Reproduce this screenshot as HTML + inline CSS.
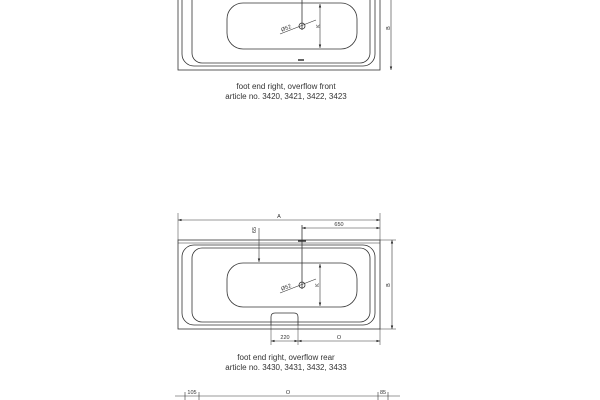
<!DOCTYPE html>
<html><head><style>
html,body{margin:0;padding:0;background:#fff;width:600px;height:400px;overflow:hidden}
svg text{font-family:"Liberation Sans",sans-serif;fill:#333}
</style></head><body>
<svg width="600" height="400" viewBox="0 0 600 400" xmlns="http://www.w3.org/2000/svg">
<defs>
<marker id="ar" viewBox="0 0 6 6" refX="6" refY="3" markerWidth="6" markerHeight="6" orient="auto-start-reverse"><path d="M0,1 L6,3 L0,5z" fill="#222"/></marker>
</defs>
<g stroke="#333" fill="none" stroke-width="0.8">
<!-- top tub (offset -259) -->
<rect x="178" y="-19" width="202" height="89"/>
<rect x="182" y="-14" width="193" height="80" rx="12"/>
<rect x="192" y="-11" width="178" height="74" rx="10"/>
<rect x="227" y="3" width="130" height="46" rx="16"/>
<line x1="302" y1="-10" x2="302" y2="30"/>
<circle cx="302" cy="26" r="3"/>
<line x1="280" y1="34" x2="316" y2="20" stroke-width="0.6"/>
<line x1="320" y1="4" x2="320" y2="48" marker-start="url(#ar)" marker-end="url(#ar)" stroke-width="0.6"/>
<line x1="391" y1="-19" x2="391" y2="70" marker-end="url(#ar)" stroke-width="0.6"/>
<line x1="298" y1="60" x2="304" y2="60" stroke-width="1.5"/>
<!-- bottom tub -->
<rect x="178" y="240" width="202" height="89"/>
<line x1="178" y1="243" x2="380" y2="243" stroke-width="0.5"/>
<rect x="182" y="245" width="193" height="80" rx="12"/>
<rect x="192" y="248" width="178" height="74" rx="10"/>
<rect x="227" y="263" width="130" height="44" rx="16"/>
<path d="M271,325 L271,317 Q271,313 275,313 L294,313 Q298,313 298,317 L298,325"/>
<line x1="178" y1="213" x2="178" y2="240" stroke-width="0.5"/>
<line x1="380" y1="213" x2="380" y2="240" stroke-width="0.5"/>
<line x1="178" y1="220" x2="380" y2="220" marker-start="url(#ar)" marker-end="url(#ar)" stroke-width="0.6"/>
<line x1="302" y1="225" x2="302" y2="289"/>
<line x1="302" y1="228" x2="380" y2="228" marker-start="url(#ar)" marker-end="url(#ar)" stroke-width="0.6"/>
<line x1="298" y1="241" x2="306" y2="241" stroke-width="1.5"/>
<circle cx="302" cy="285" r="3"/>
<line x1="280" y1="293" x2="316" y2="279" stroke-width="0.6"/>
<line x1="259" y1="228" x2="259" y2="262" marker-end="url(#ar)" stroke-width="0.6"/>
<line x1="320" y1="264" x2="320" y2="306" marker-start="url(#ar)" marker-end="url(#ar)" stroke-width="0.6"/>
<line x1="380" y1="240" x2="396" y2="240" stroke-width="0.5"/>
<line x1="380" y1="329" x2="396" y2="329" stroke-width="0.5"/>
<line x1="392" y1="240" x2="392" y2="329" marker-start="url(#ar)" marker-end="url(#ar)" stroke-width="0.6"/>
<line x1="271" y1="325" x2="271" y2="345" stroke-width="0.5"/>
<line x1="298" y1="325" x2="298" y2="345" stroke-width="0.5"/>
<line x1="380" y1="329" x2="380" y2="345" stroke-width="0.5"/>
<line x1="271" y1="341" x2="298" y2="341" marker-start="url(#ar)" marker-end="url(#ar)" stroke-width="0.6"/>
<line x1="298" y1="341" x2="380" y2="341" marker-start="url(#ar)" marker-end="url(#ar)" stroke-width="0.6"/>
<!-- bottom dim row -->
<line x1="175" y1="396" x2="400" y2="396" stroke-width="0.6"/>
<line x1="185" y1="392" x2="185" y2="400" stroke-width="0.6"/>
<line x1="199" y1="392" x2="199" y2="400" stroke-width="0.6"/>
<line x1="378" y1="392" x2="378" y2="400" stroke-width="0.6"/>
<line x1="388" y1="392" x2="388" y2="400" stroke-width="0.6"/>
</g>
<g font-size="5.5" text-anchor="middle">
<text x="391" y="-19" transform="rotate(-90 388 28)" x2="0"></text>
<text x="388" y="30" transform="rotate(-90 388 28)">B</text>
<text x="317" y="29" transform="rotate(-90 317 26)">K</text>
<text x="286" y="30" transform="rotate(-22 286 28)">Ø52</text>
<text x="279" y="218">A</text>
<text x="339" y="226">650</text>
<text x="256" y="230" transform="rotate(-90 256 230)">65</text>
<text x="388" y="287" transform="rotate(-90 388 285)">B</text>
<text x="317" y="287" transform="rotate(-90 317 285)">K</text>
<text x="286" y="289" transform="rotate(-22 286 287)">Ø52</text>
<text x="285" y="339">220</text>
<text x="339" y="339">O</text>
<text x="192" y="394">105</text>
<text x="288" y="394">O</text>
<text x="383" y="394">85</text>
</g>
<g font-size="8" text-anchor="middle">
<text x="286" y="89">foot end right, overflow front</text>
<text x="286" y="99">article no. 3420, 3421, 3422, 3423</text>
<text x="286" y="360">foot end right, overflow rear</text>
<text x="286" y="370">article no. 3430, 3431, 3432, 3433</text>
</g>
</svg>
</body></html>
